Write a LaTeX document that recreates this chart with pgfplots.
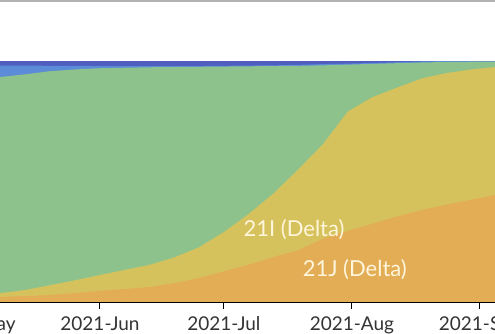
\documentclass[border=0pt]{standalone}
\usepackage{pgfplots}
\usepackage{pgfplotstable}
\usepackage{fontspec}
\setmainfont{Lato}
\pgfplotsset{compat=1.18}
\definecolor{cdblue}{HTML}{505EC0}
\definecolor{clblue}{HTML}{5C8CD8}
\definecolor{cgreen}{HTML}{8EC28C}
\definecolor{cyellow}{HTML}{D6C25C}
\definecolor{corange}{HTML}{E3AD56}
\definecolor{ccream}{HTML}{FFF6DC}
\definecolor{ctext}{HTML}{333333}
% cumulative stack tops: orange (21J), +yellow (21I), +green, +light blue, total
\pgfplotstableread{
d   o     oy    oyg   lb    top
-36 0.016 0.025 0.915 0.981 1
-30 0.018 0.030 0.925 0.981 1
-25 0.020 0.035 0.932 0.981 1
-18 0.025 0.050 0.945 0.981 1
-12 0.029 0.070 0.958 0.980 1
-6  0.037 0.090 0.965 0.980 1
0   0.046 0.112 0.970 0.979 1
6   0.054 0.133 0.972 0.979 1
12  0.062 0.154 0.974 0.979 1
18  0.078 0.185 0.975 0.979 1
24  0.100 0.227 0.976 0.979 1
30  0.127 0.290 0.977 0.980 1
36  0.155 0.365 0.978 0.981 1
42  0.187 0.450 0.979 0.982 1
48  0.215 0.550 0.980 0.984 1
54  0.263 0.655 0.982 0.987 1
60  0.295 0.790 0.985 0.989 1
66  0.325 0.850 0.988 0.992 1
72  0.355 0.890 0.991 0.995 1
78  0.382 0.928 0.994 0.998 1
84  0.405 0.950 0.996 1.000 1
90  0.425 0.965 0.997 1.000 1
96  0.445 0.975 0.998 1.000 1
}\freq
\begin{document}
\begin{tikzpicture}
\useasboundingbox (0,-32bp) rectangle (495bp,302bp);
\clip (0,-32bp) rectangle (495bp,302bp);
\begin{axis}[
  at={(-44.6bp,0)}, anchor=south west,
  scale only axis, width=539.4bp, height=301bp,
  xmin=-35, xmax=95.6, ymin=0, ymax=1.249,
  axis x line*=bottom, axis y line=none,
  x axis line style={black, line width=1.2bp},
  xtick={-31,0,30,61,92},
  xticklabels={2021-May,2021-Jun,2021-Jul,2021-Aug,2021-Sep},
  tick align=outside, major tick length=7bp,
  tick style={black, line width=1bp},
  /pgf/number format/assume math mode=true,
  xticklabel style={font=\fontsize{19bp}{22bp}\selectfont, text=ctext, anchor=base, yshift=-21bp},
  clip=true,
]
\addplot[draw=none, fill=cdblue] table[x=d, y=top] {\freq} \closedcycle;
\addplot[draw=none, fill=clblue] table[x=d, y=lb] {\freq} \closedcycle;
\addplot[draw=none, fill=cgreen] table[x=d, y=oyg] {\freq} \closedcycle;
\addplot[draw=none, fill=cyellow] table[x=d, y=oy] {\freq} \closedcycle;
\addplot[draw=none, fill=corange] table[x=d, y=o] {\freq} \closedcycle;
\node[text=ccream, font=\fontsize{22bp}{25bp}\selectfont] at (axis cs:47,0.299) {21I (Delta)};
\node[text=ccream, font=\fontsize{22bp}{25bp}\selectfont] at (axis cs:61.7,0.133) {21J (Delta)};
\draw[color=gray!60, line width=2bp] (rel axis cs:0,1) -- (rel axis cs:1,1);
\end{axis}
\end{tikzpicture}
\end{document}
